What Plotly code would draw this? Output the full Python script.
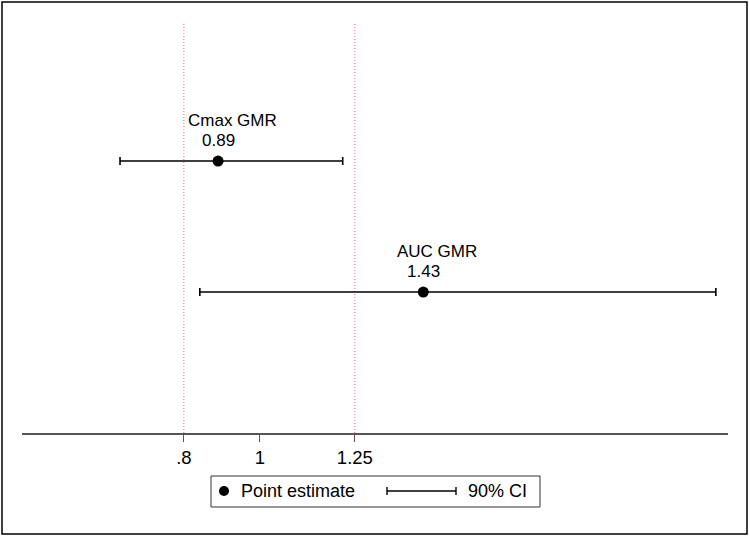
import plotly.graph_objects as go

# Data
labels = ["Cmax GMR", "AUC GMR"]
gmr = [0.89, 1.43]
ci_low = [0.632, 0.842]
ci_high = [1.218, 2.20]
rows = [2, 1]
ref_lines = [0.8, 1.25]
tick_vals = [0.8, 1, 1.25]
tick_text = [".8", "1", "1.25"]

W, H = 750, 537
ML, MR, MT, MB = 22, 22, 24, 104
PW, PH = W - ML - MR, H - MT - MB

def px(x):
    return (x - ML) / PW

def py(y):
    return (H - MB - y) / PH

FONT = "Liberation Sans, Arial, Helvetica, sans-serif"

fig = go.Figure()
fig.add_trace(go.Scatter(
    x=gmr, y=rows, mode="markers",
    marker=dict(color="black", size=11),
    error_x=dict(type="data", symmetric=False,
                 array=[h - g for h, g in zip(ci_high, gmr)],
                 arrayminus=[g - l for g, l in zip(gmr, ci_low)],
                 color="black", thickness=1.6, width=4),
    showlegend=False, hoverinfo="skip"))

shapes = []
for v in ref_lines:
    shapes.append(dict(type="line", xref="x", yref="paper", x0=v, x1=v, y0=0, y1=1,
                       line=dict(color="#ff5a6e", width=1, dash="1px,2px"), layer="below"))
# outer frame
shapes.append(dict(type="rect", xref="paper", yref="paper",
                   x0=px(2), x1=px(747), y0=py(534), y1=py(2),
                   line=dict(color="black", width=1.5)))
# legend box
shapes.append(dict(type="rect", xref="paper", yref="paper",
                   x0=px(211), x1=px(540), y0=py(507), y1=py(476),
                   line=dict(color="#333333", width=1), fillcolor="white"))
# legend marker
shapes.append(dict(type="circle", xref="paper", yref="paper",
                   x0=px(219), x1=px(229), y0=py(496), y1=py(486),
                   line=dict(color="black", width=0), fillcolor="black"))
# legend CI line with caps
shapes.append(dict(type="line", xref="paper", yref="paper",
                   x0=px(387), x1=px(456), y0=py(491), y1=py(491),
                   line=dict(color="black", width=1.4)))
for cx in (387, 456):
    shapes.append(dict(type="line", xref="paper", yref="paper",
                       x0=px(cx), x1=px(cx), y0=py(487), y1=py(495),
                       line=dict(color="black", width=1.4)))

annotations = []
for lab, g, r in zip(labels, gmr, rows):
    annotations.append(dict(x=g, y=r, xref="x", yref="y", text=lab, showarrow=False,
                            xshift=14, yshift=41, font=dict(size=17, color="black", family=FONT)))
    annotations.append(dict(x=g, y=r, xref="x", yref="y", text=f"{g:.2f}", showarrow=False,
                            yshift=21, font=dict(size=17, color="black", family=FONT)))
annotations.append(dict(x=px(239), y=py(491), xref="paper", yref="paper", text="Point estimate",
                        showarrow=False, xanchor="left", yanchor="middle",
                        font=dict(size=18, color="black", family=FONT)))
annotations.append(dict(x=px(466), y=py(491), xref="paper", yref="paper", text="90% CI",
                        showarrow=False, xanchor="left", yanchor="middle",
                        font=dict(size=18, color="black", family=FONT)))

fig.update_layout(
    width=W, height=H,
    margin=dict(l=ML, r=MR, t=MT, b=MB),
    paper_bgcolor="white", plot_bgcolor="white",
    shapes=shapes, annotations=annotations,
    xaxis=dict(range=[0.374, 2.232], tickvals=tick_vals, ticktext=tick_text,
               showgrid=False, zeroline=False, showline=True, linecolor="#555555", linewidth=1.5,
               ticks="outside", ticklen=7, tickcolor="#555555", tickwidth=1.2,
               tickfont=dict(size=18.5, color="black", family=FONT)),
    yaxis=dict(range=[-0.076, 3.046], visible=False, showgrid=False, zeroline=False),
)

fig.write_html("out.html", config={"displayModeBar": False},
               post_script="document.body.style.margin='0';document.body.style.overflow='hidden';")
